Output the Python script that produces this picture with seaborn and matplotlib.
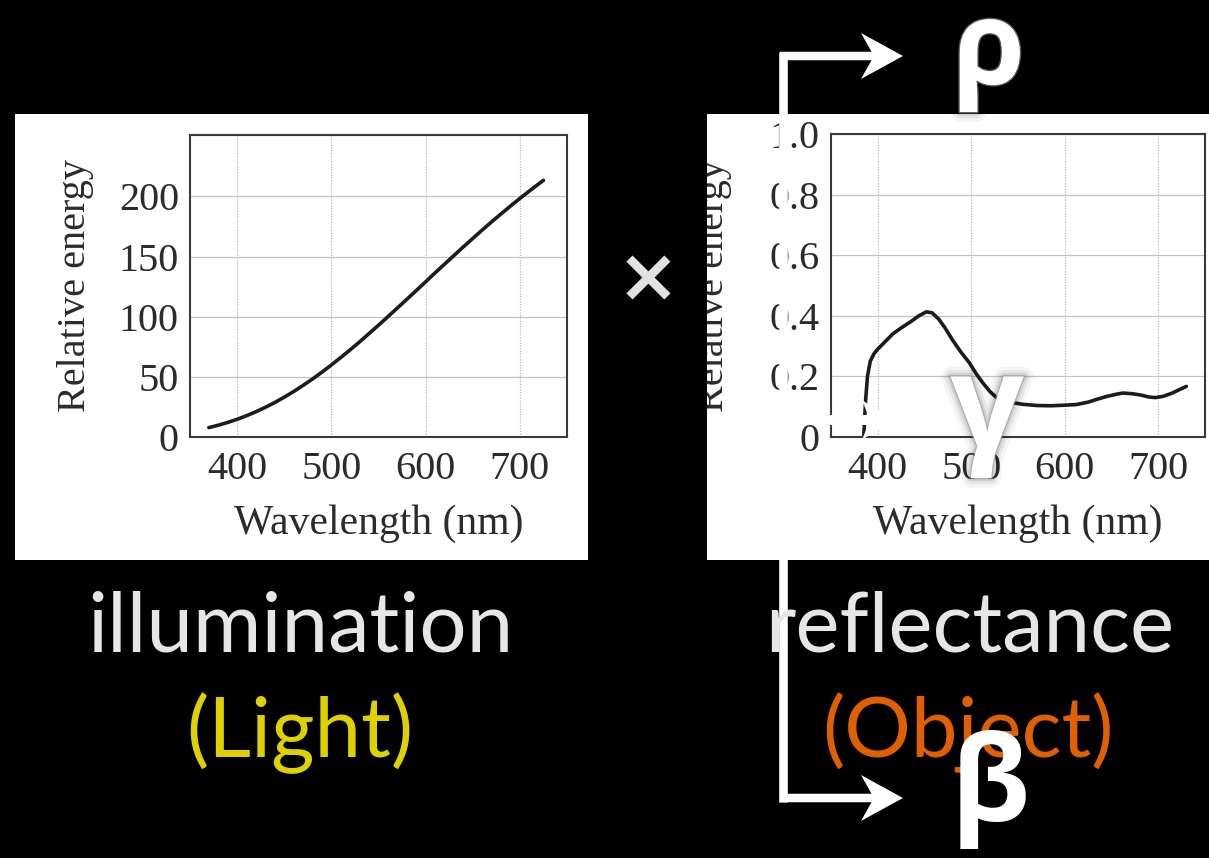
import matplotlib
matplotlib.use("Agg")
import matplotlib.pyplot as plt
import seaborn as sns
import pandas as pd
from matplotlib.patches import Rectangle, FancyArrow
from matplotlib.transforms import Bbox, TransformedBbox
import matplotlib.patheffects as pe

# ---------------- data ----------------
illum_wavelength = [370, 380, 390, 400, 410, 420, 430, 440, 450, 460, 470, 480, 490,
                    500, 510, 520, 530, 540, 550, 560, 570, 580, 590, 600, 610, 620,
                    630, 640, 650, 660, 670, 680, 690, 700, 710, 720, 725]
illum_energy = [7.8, 9.8, 12.1, 14.7, 17.7, 21.0, 24.7, 28.7, 33.1, 37.8, 42.9, 48.2, 53.9,
                59.9, 66.1, 72.5, 79.1, 86.0, 92.9, 100.0, 107.2, 114.4, 121.7, 129.0, 136.4,
                143.6, 150.8, 158.0, 165.0, 172.0, 178.8, 185.4, 191.9, 198.3, 204.4, 210.4, 213.3]

refl_wavelength = [385, 387, 389, 392, 396, 400, 408, 416, 425, 435, 444, 452, 458, 465,
                   472, 480, 489, 498, 505, 512, 520, 527, 535, 545, 555, 570, 585, 600,
                   612, 625, 635, 645, 655, 662, 672, 682, 690, 697, 705, 715, 723, 730]
refl_value = [0.0, 0.12, 0.2, 0.25, 0.275, 0.29, 0.315, 0.34, 0.36, 0.38, 0.4, 0.413, 0.41, 0.39,
              0.36, 0.32, 0.28, 0.245, 0.21, 0.18, 0.15, 0.13, 0.12, 0.113, 0.108, 0.104, 0.103, 0.105,
              0.107, 0.115, 0.125, 0.134, 0.141, 0.145, 0.143, 0.138, 0.132, 0.13, 0.134, 0.145, 0.157, 0.167]

x_ticks = [400, 500, 600, 700]
illum_yticks = [0, 50, 100, 150, 200]
refl_yticks = [0, 0.2, 0.4, 0.6, 0.8, 1.0]
refl_yticklabels = ["0", "0.2", "0.4", "0.6", "0.8", "1.0"]
x_label = "Wavelength (nm)"
y_label = "Relative energy"
caption_left = ["illumination", "(Light)"]
caption_right = ["reflectance", "(Object)"]
greek = ["ρ", "γ", "β"]

# ---------------- style ----------------
W, H = 1209, 858
sns.set_theme(style="white")
plt.rcParams["font.family"] = ["Liberation Serif", "DejaVu Serif"]
plt.rcParams["axes.unicode_minus"] = False

fig = plt.figure(figsize=(W / 100, H / 100), dpi=100)
fig.patch.set_facecolor("black")


def fx(x):
    return x / W


def fy(y):
    return 1 - y / H


# white paper panels behind the charts
left_panel = Rectangle((fx(15), fy(560)), (588 - 15) / W, (560 - 114) / H,
                       transform=fig.transFigure, facecolor="white", edgecolor="none", zorder=0)
right_panel = Rectangle((fx(707), fy(560)), (1209 - 707) / W, (560 - 114) / H,
                        transform=fig.transFigure, facecolor="white", edgecolor="none", zorder=0)
fig.patches.extend([left_panel, right_panel])

ink = "#2b2b2b"
grid_c = "#c4c4c4"


def style_axes(ax, ylim, yticks, yticklabels, ylabelpad):
    ax.set_facecolor("white")
    ax.set_xlim(350, 750)
    ax.set_ylim(*ylim)
    ax.set_xticks(x_ticks)
    ax.set_xticklabels([str(t) for t in x_ticks])
    ax.set_yticks(yticks)
    ax.set_yticklabels(yticklabels)
    ax.tick_params(axis="both", length=0, labelsize=29, labelcolor=ink)
    ax.tick_params(axis="y", pad=8)
    ax.tick_params(axis="x", pad=10)
    for s in ax.spines.values():
        s.set_color("#3a3a3a")
        s.set_linewidth(1.5)
    ax.grid(False)
    for t in x_ticks:
        ax.axvline(t, color=grid_c, lw=0.9, ls=(0, (1.2, 1.0)), zorder=0.5)
    for t in yticks[1:]:
        ax.axhline(t, color=grid_c, lw=0.9, zorder=0.5)
    ax.set_xlabel(x_label, fontsize=30, color=ink, labelpad=12)
    ax.set_ylabel(y_label, fontsize=29, color=ink, labelpad=ylabelpad)


# left chart: illumination
ax1 = fig.add_axes([fx(190), fy(437), (567 - 190) / W, (437 - 135) / H], zorder=2)
df1 = pd.DataFrame({"wavelength": illum_wavelength, "energy": illum_energy})
sns.lineplot(data=df1, x="wavelength", y="energy", ax=ax1, color="#1c1c1c", linewidth=2.6)
style_axes(ax1, (0, 251), illum_yticks, [str(v) for v in illum_yticks], 18)

# right chart: reflectance
ax2 = fig.add_axes([fx(831), fy(437), (1205 - 831) / W, (437 - 134) / H], zorder=2)
df2 = pd.DataFrame({"wavelength": refl_wavelength, "value": refl_value})
sns.lineplot(data=df2, x="wavelength", y="value", ax=ax2, color="#1c1c1c", linewidth=2.6)
style_axes(ax2, (0, 0.993), refl_yticks, refl_yticklabels, 27)
# clip the right y-label to its paper panel
clip_bb = TransformedBbox(Bbox.from_extents(fx(707), fy(560), 1, fy(114)), fig.transFigure)
ax2.yaxis.label.set_clip_box(clip_bb)
ax2.yaxis.label.set_clip_on(True)

# ---------------- overlay: arrows, captions, greek letters ----------------
ov = fig.add_axes([0, 0, 1, 1], zorder=10)
ov.set_xlim(0, W)
ov.set_ylim(H, 0)
ov.axis("off")
ov.patch.set_alpha(0)

white = "white"
ov.plot([783, 783], [52, 802], color=white, lw=6.2, solid_capstyle="butt")
for yy in (56, 798):
    ov.add_patch(FancyArrow(780, yy, 123, 0, width=8.5, head_width=46, head_length=42,
                            length_includes_head=True, overhang=0.25, color=white, lw=0))
ov.add_patch(FancyArrow(780, 420, 112, 0, width=10, head_width=40, head_length=30,
                        length_includes_head=True, overhang=0.2, color=white, lw=0))

sans = ["Lato", "DejaVu Sans"]
ov.text(300, 652, caption_left[0], ha="center", va="baseline", fontsize=60,
        color="#e6e6e6", family=sans)
ov.text(300, 757, caption_left[1], ha="center", va="baseline", fontsize=60,
        color="#ddd200", family=sans)
ov.text(970, 652, caption_right[0], ha="center", va="baseline", fontsize=60,
        color="#e6e6e6", family=sans)
ov.text(968, 757, caption_right[1], ha="center", va="baseline", fontsize=60,
        color="#e06000", family=sans)

ov.text(648, 302, "×", ha="center", va="baseline", fontsize=54, fontweight="bold",
        color="#e2e2e2", family=["DejaVu Sans"])

greek_font = ["Open Sans", "DejaVu Sans"]
glow = [pe.Stroke(linewidth=14, foreground="black", alpha=0.04),
        pe.Stroke(linewidth=9, foreground="black", alpha=0.06),
        pe.Stroke(linewidth=5, foreground="black", alpha=0.09),
        pe.Stroke(linewidth=2, foreground="#9a9a9a", alpha=0.6),
        pe.Normal()]
ov.text(989, 84, greek[0], ha="center", va="baseline", fontsize=84, fontweight="bold",
        color=white, family=greek_font, path_effects=glow)
ov.text(987, 447, greek[1], ha="center", va="baseline", fontsize=93, fontweight="bold",
        color=white, family=greek_font, path_effects=glow)
ov.text(990, 821, greek[2], ha="center", va="baseline", fontsize=86, fontweight="bold",
        color=white, family=greek_font)

fig.savefig("out.png", dpi=100, facecolor="black")
